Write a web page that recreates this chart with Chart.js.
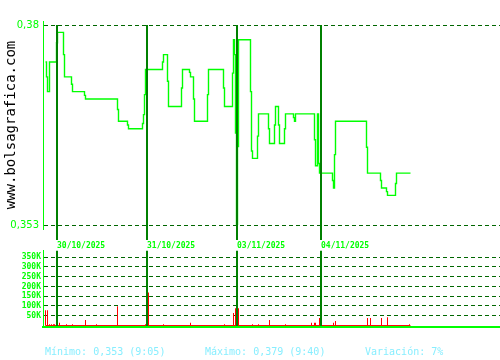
<!DOCTYPE html>
<html><head><meta charset="utf-8">
<script src="https://cdn.jsdelivr.net/npm/chart.js@4/dist/chart.umd.min.js"></script>
<style>
html,body{margin:0;padding:0;background:#fff;}
#wrap{position:relative;width:500px;height:360px;overflow:hidden;background:#fff;}
canvas{position:absolute;left:0;}
.stat{position:absolute;top:346px;font:10px/12px "DejaVu Sans Mono",monospace;color:#88eeff;white-space:pre;}
</style></head><body>
<div id="wrap">
<canvas id="priceChart" width="500" height="250" style="top:0"></canvas>
<canvas id="volChart" width="500" height="96" style="top:244px"></canvas>
<div class="stat" id="s0" style="left:45px"></div>
<div class="stat" id="s1" style="left:205px"></div>
<div class="stat" id="s2" style="left:365px"></div>
</div>
<script>
// time axis: session time units across the 4 trading days shown
const priceTimes = [2.5,3.5,4.5,6.5,13.5,14.5,20.5,21.5,28.5,29.5,41.5,42.5,74.5,75.5,84.5,85.5,99.5,100.5,101.5,102.5,
  119.5,120.5,124.5,125.5,138.5,139.5,146.5,147.5,150.5,151.5,164.5,165.5,180.5,181.5,189.5,190.5,191.5,192.5,193.5,194.5,195.5,
  207.5,208.5,209.5,214.5,215.5,225.5,226.5,231.5,232.5,235.5,236.5,241.5,242.5,250.5,251.5,252.5,271.5,272.5,274.5,275.5,276.5,
  289.5,290.5,291.5,292.5,323.5,324.5,337.5,338.5,343.5,344.5,352.5,353.5,367.5];
const priceValues = [0.375,0.373,0.371,0.375,0.3776,0.379,0.376,0.373,0.372,0.371,0.3705,0.370,0.3686,0.367,0.3665,0.366,0.3667,0.3679,0.3706,0.374,
  0.375,0.376,0.3724,0.369,0.3715,0.374,0.3736,0.373,0.370,0.367,0.3706,0.374,0.3715,0.369,0.3735,0.378,0.376,0.3654,0.353,0.3636,0.378,
  0.371,0.363,0.362,0.365,0.368,0.366,0.364,0.3665,0.369,0.3665,0.364,0.366,0.368,0.3675,0.367,0.368,0.3645,0.361,0.368,0.3613,0.360,
  0.359,0.358,0.3625,0.367,0.3635,0.360,0.359,0.358,0.3575,0.357,0.3586,0.360,0.360];
const volTimes = [2.5,4.5,6.5,8.5,10.5,11.5,14.5,16.5,23.5,29.5,42.5,53.5,74.5,102.5,105.5,120.5,147.5,181.5,190.5,192.5,194.5,195.5,
  209.5,215.5,226.5,242.5,268.5,271.5,272.5,276.5,290.5,292.5,324.5,327.5,338.5,344.5,366.5];
const volValues = [78000,78000,7000,7000,7000,7000,78000,14000,7000,7000,28000,7000,99000,7000,169000,7000,14000,7000,64000,88000,136000,88000,
  7000,7000,28000,7000,14000,14000,14000,38000,14000,23000,38000,38000,38000,43000,7000];
const dayTimes = [14,104,194,278];
const dayLabels = ['30/10/2025','31/10/2025','03/11/2025','04/11/2025'];
const priceTicks = [0.353,0.38];
const priceTickLabels = ['0,353','0,38'];
const volTicks = [50000,100000,150000,200000,250000,300000,350000];
const volTickLabels = ['50K','100K','150K','200K','250K','300K','350K'];
const statTexts = ['Mínimo: 0,353 (9:05)','Máximo: 0,379 (9:40)','Variación: 7%'];
const siteName = 'www.bolsagrafica.com';

statTexts.forEach((t,i)=>{document.getElementById('s'+i).textContent=t;});

const LIME='#00ff00', DAY='#008000', DASH='#006600';

const axisExt = {id:'axisExt', afterDraw(chart){
  const {ctx, chartArea:a} = chart;
  ctx.save(); ctx.strokeStyle=LIME; ctx.lineWidth=1;
  ctx.beginPath(); ctx.moveTo(a.left+0.5, a.top-4); ctx.lineTo(a.left+0.5, a.bottom+5); ctx.stroke();
  ctx.restore();
}};

new Chart(document.getElementById('priceChart'), {
  type:'line',
  data:{datasets:[{
    data: priceTimes.map((t,i)=>({x:t,y:priceValues[i]})),
    borderColor:LIME, borderWidth:1.4, stepped:true, pointRadius:0, fill:false
  }]},
  options:{
    responsive:false, animation:false, devicePixelRatio:1,
    layout:{padding:{top:25,left:0,right:0,bottom:0}},
    plugins:{legend:{display:false}, tooltip:{enabled:false}},
    scales:{
      x:{type:'linear', min:0, max:457, offset:false,
        afterBuildTicks:s=>{s.ticks=dayTimes.map(v=>({value:v}));},
        afterFit:s=>{s.height=25;},
        grid:{color:DAY, lineWidth:2, tickLength:15, drawTicks:true, z:1},
        border:{display:false, z:1},
        ticks:{align:'start', padding:1, color:LIME, maxRotation:0, autoSkip:false,
          font:{family:'DejaVu Sans Mono', size:8, weight:'bold'},
          callback:(v,i)=>dayLabels[i]}
      },
      y:{min:0.353, max:0.38,
        afterBuildTicks:s=>{s.ticks=priceTicks.map(v=>({value:v}));},
        afterFit:s=>{s.width=43;},
        grid:{color:DASH, lineWidth:1, drawTicks:false},
        border:{display:true, color:LIME, width:1, dash:[4,3]},
        ticks:{padding:4, color:LIME, font:{family:'DejaVu Sans', size:10},
          callback:(v,i)=>priceTickLabels[i]},
        title:{display:true, text:siteName, color:'#000',
          font:{family:'DejaVu Sans Mono', size:14}, padding:{top:3,bottom:0}}
      }
    }
  },
  plugins:[axisExt]
});

new Chart(document.getElementById('volChart'), {
  type:'bar',
  data:{datasets:[
    {type:'bar', data: volTimes.map((t,i)=>({x:t,y:volValues[i]})), backgroundColor:'#ff0000',
      barThickness:1, grouped:false, borderWidth:0, inflateAmount:0, order:1},
    {type:'line', data:[{x:priceTimes[0],y:0},{x:priceTimes[priceTimes.length-1],y:0}],
      borderColor:'#ff0000', borderWidth:1, pointRadius:0, fill:false, order:2}
  ]},
  options:{
    responsive:false, animation:false, devicePixelRatio:1,
    layout:{padding:{top:5,left:0,right:0,bottom:0}},
    plugins:{legend:{display:false}, tooltip:{enabled:false}},
    scales:{
      x:{type:'linear', min:0, max:457, offset:false,
        afterBuildTicks:s=>{s.ticks=dayTimes.map(v=>({value:v}));},
        afterFit:s=>{s.height=13;},
        grid:{color:DAY, lineWidth:2, drawTicks:false, offset:false, z:1},
        border:{display:true, color:LIME, width:2, z:1},
        ticks:{display:false}
      },
      y:{min:-7500, max:382500,
        afterBuildTicks:s=>{s.ticks=volTicks.map(v=>({value:v}));},
        afterFit:s=>{s.width=43;},
        grid:{color:DASH, lineWidth:1, drawTicks:false},
        border:{display:true, color:LIME, width:1, dash:[4,3]},
        ticks:{padding:2, color:LIME, font:{family:'DejaVu Sans Mono', size:8, weight:'bold'},
          callback:(v,i)=>volTickLabels[i]}
      }
    }
  }
});
</script>
</body></html>
